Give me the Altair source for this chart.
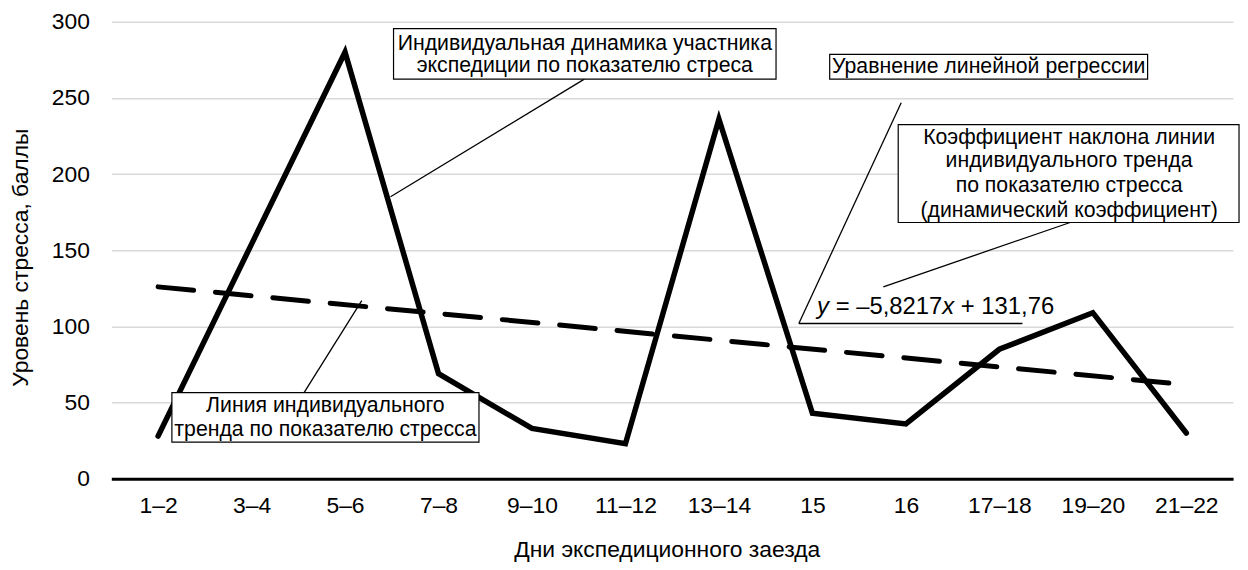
import altair as alt
import pandas as pd

FONT = "Liberation Sans"

# ---- chart data ----
categories = ["1–2", "3–4", "5–6", "7–8", "9–10", "11–12", "13–14", "15", "16", "17–18", "19–20", "21–22"]
stress = [28, 154, 280, 69, 33, 23, 236, 43, 36, 85, 109, 30]
y_ticks = [0, 50, 100, 150, 200, 250, 300]

# ---- annotation content (data units: x = category index, y = score) ----
box_x0 = [3.519, 1.148, 8.185, 8.918]
box_x1 = [7.611, 4.433, 11.586, 12.564]
box_y0 = [262.3, 24.0, 262.3, 168.2]
box_y1 = [295.5, 56.5, 278.6, 232.5]

label_text = [
    "Индивидуальная динамика участника",
    "экспедиции по показателю стреса",
    "Линия индивидуального",
    "тренда по показателю стресса",
    "Уравнение линейной регрессии",
    "Коэффициент наклона линии",
    "индивидуального тренда",
    "по показателю стресса",
    "(динамический коэффициент)",
]
label_x = [5.565, 5.565, 2.79, 2.79, 9.886, 10.746, 10.746, 10.746, 10.746]
label_y = [285.1, 270.8, 47.4, 31.8, 270.5, 223.4, 208.4, 192.2, 176.0]

leader_x = [5.56, 2.562, 8.95, 7.855, 10.757]
leader_y = [262.3, 56.5, 246.8, 101.9, 168.2]
leader_x2 = [3.487, 3.179, 7.855, 10.247, 8.759]
leader_y2 = [185.1, 116.9, 101.9, 101.9, 126.0]

eq_parts = ["y", "= –5,8217", "x", "+ 131,76"]
eq_styles = ["italic", "normal", "italic", "normal"]
eq_x = 8.05
eq_y = 113.0

# ---- tables ----
df = pd.DataFrame({"idx": list(range(1, len(categories) + 1)), "stress": stress})
boxes = pd.DataFrame({"x": box_x0, "x2": box_x1, "y": box_y0, "y2": box_y1})
labels = pd.DataFrame({"x": label_x, "y": label_y, "t": label_text})
leaders = pd.DataFrame({"x": leader_x, "y": leader_y, "x2": leader_x2, "y2": leader_y2})

XS = alt.Scale(domain=[0.5, 12.5], nice=False, zero=False)
YS = alt.Scale(domain=[0, 300], nice=False)

label_expr = "[" + ",".join("'" + c + "'" for c in categories) + "][datum.value - 1]"

x_axis = alt.Axis(
    values=list(range(1, len(categories) + 1)),
    labelExpr=label_expr,
    grid=False,
    ticks=False,
    domain=True,
    domainColor="black",
    domainWidth=3,
    labelFont=FONT,
    labelFontSize=23,
    labelColor="black",
    labelPadding=16,
    title="Дни экспедиционного заезда",
    titleFont=FONT,
    titleFontSize=23,
    titleFontWeight="normal",
    titleColor="black",
    titleX=559,
    titleY=71,
    titleBaseline="middle",
    titleAlign="center",
)
y_axis = alt.Axis(
    values=y_ticks,
    grid=True,
    gridColor="#d9d9d9",
    gridWidth=1.5,
    ticks=False,
    domain=False,
    labelFont=FONT,
    labelFontSize=23,
    labelColor="black",
    labelPadding=22,
    title="Уровень стресса, баллы",
    titleFont=FONT,
    titleFontSize=23,
    titleFontWeight="normal",
    titleColor="black",
    titleX=-91,
    titleY=237,
    titleAngle=-90,
    titleBaseline="middle",
    titleAlign="center",
)

main = alt.Chart(df).mark_line(
    color="black", strokeWidth=5.5, strokeCap="round", strokeJoin="miter"
).encode(
    x=alt.X("idx:Q", scale=XS, axis=x_axis),
    y=alt.Y("stress:Q", scale=YS, axis=y_axis),
)

trend = alt.Chart(df).transform_regression(
    "idx", "stress", method="linear", extent=[1, 12]
).mark_line(
    color="black", strokeWidth=5, strokeDash=[36, 22], strokeCap="round"
).encode(
    x=alt.X("idx:Q", scale=XS),
    y=alt.Y("stress:Q", scale=YS),
)

lead = alt.Chart(leaders).mark_rule(color="black", strokeWidth=1.3).encode(
    x=alt.X("x:Q", scale=XS),
    y=alt.Y("y:Q", scale=YS),
    x2="x2:Q",
    y2="y2:Q",
)

rects = alt.Chart(boxes).mark_rect(
    fill="white", stroke="black", strokeWidth=1.2, clip=False
).encode(
    x=alt.X("x:Q", scale=XS),
    x2="x2:Q",
    y=alt.Y("y:Q", scale=YS),
    y2="y2:Q",
)

texts = alt.Chart(labels).mark_text(
    font=FONT, fontSize=21.4, color="black", align="center", baseline="middle"
).encode(
    x=alt.X("x:Q", scale=XS),
    y=alt.Y("y:Q", scale=YS),
    text="t:N",
)

# equation pieces (italic variables)
eq_dx = [0, 18.7, 126.0, 144.6]
eq_layers = []
for part, style, dx in zip(eq_parts, eq_styles, eq_dx):
    eq_layers.append(
        alt.Chart(pd.DataFrame({"x": [eq_x], "y": [eq_y], "t": [part]})).mark_text(
            font=FONT, fontSize=24, fontStyle=style, color="black",
            align="left", baseline="middle", dx=dx
        ).encode(
            x=alt.X("x:Q", scale=XS),
            y=alt.Y("y:Q", scale=YS),
            text="t:N",
        )
    )

chart = alt.layer(main, trend, lead, rects, texts, *eq_layers).properties(
    width=1129,
    height=460,
    autosize=alt.AutoSizeParams(type="none"),
    padding={"left": 104, "top": 12, "right": 7, "bottom": 82},
    background="white",
).configure_view(stroke=None)

chart.save("out.html", embed_options={"renderer": "svg", "actions": False})
